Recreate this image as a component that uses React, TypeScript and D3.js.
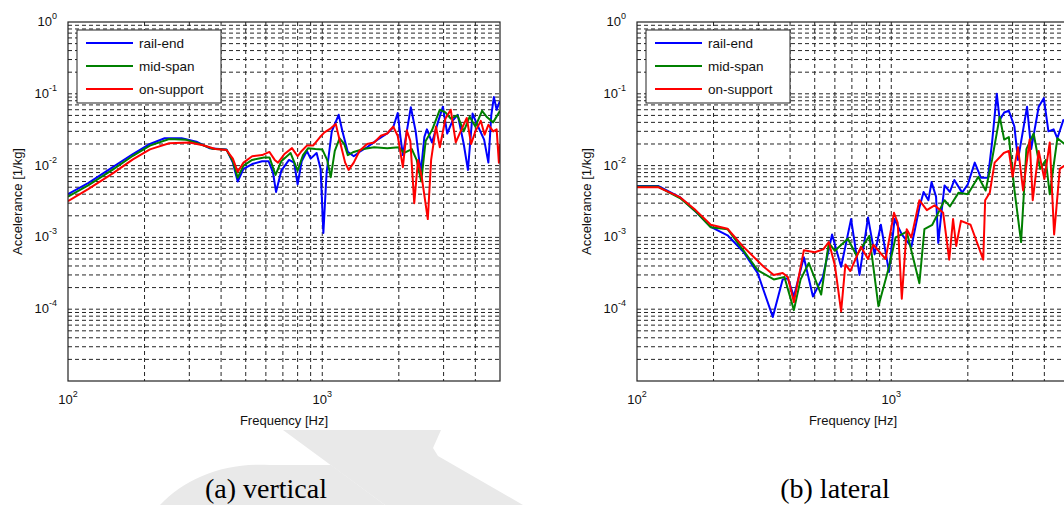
import React from 'react';
import * as d3 from 'd3';

// frequency [Hz], accelerance [1/kg]
const vertRailEnd = [
  [100, 0.004], [120, 0.0057], [150, 0.0095], [180, 0.0145], [210, 0.02], [240, 0.024], [280, 0.024],
  [320, 0.0215], [360, 0.0175], [420, 0.0168], [445, 0.011], [465, 0.006], [490, 0.009], [530, 0.0105],
  [580, 0.0115], [615, 0.0115], [640, 0.008], [658, 0.0043], [690, 0.0085], [740, 0.012], [775, 0.011],
  [800, 0.0055], [830, 0.0115], [870, 0.016], [900, 0.0125], [950, 0.015], [985, 0.009], [1010, 0.00115],
  [1040, 0.008], [1090, 0.03], [1160, 0.051], [1200, 0.03], [1260, 0.0155], [1330, 0.0135], [1400, 0.0155],
  [1500, 0.018], [1650, 0.023], [1800, 0.028], [1900, 0.034], [1980, 0.054], [2030, 0.025], [2075, 0.014],
  [2150, 0.03], [2230, 0.065], [2330, 0.03], [2440, 0.0079], [2520, 0.025], [2580, 0.032], [2700, 0.021],
  [2850, 0.04], [2980, 0.066], [3100, 0.028], [3250, 0.042], [3410, 0.051], [3600, 0.02], [3740, 0.0087],
  [3900, 0.053], [4100, 0.035], [4330, 0.023], [4500, 0.011], [4620, 0.05], [4730, 0.09], [4850, 0.06],
  [5000, 0.08],
];
const vertMidSpan = [
  [100, 0.0037], [120, 0.0053], [150, 0.0088], [180, 0.0137], [210, 0.019], [250, 0.0235], [290, 0.023],
  [330, 0.02], [370, 0.0172], [420, 0.0166], [445, 0.0115], [465, 0.0068], [490, 0.01], [530, 0.012],
  [590, 0.013], [620, 0.013], [655, 0.0074], [690, 0.0115], [750, 0.015], [800, 0.0085], [840, 0.014],
  [880, 0.0175], [940, 0.017], [1000, 0.0168], [1045, 0.012], [1080, 0.0069], [1120, 0.016], [1170, 0.024],
  [1220, 0.02], [1260, 0.014], [1330, 0.0155], [1450, 0.017], [1600, 0.018], [1800, 0.0175], [2000, 0.018],
  [2100, 0.015], [2250, 0.017], [2350, 0.012], [2450, 0.006], [2550, 0.022], [2700, 0.031], [2900, 0.06],
  [3050, 0.055], [3200, 0.045], [3400, 0.05], [3600, 0.03], [3800, 0.048], [4000, 0.035], [4250, 0.058],
  [4450, 0.047], [4700, 0.04], [5000, 0.058],
];
const vertOnSupport = [
  [100, 0.0032], [120, 0.0047], [150, 0.0078], [180, 0.0122], [210, 0.0168], [250, 0.0205], [300, 0.021],
  [340, 0.0192], [380, 0.017], [420, 0.0165], [445, 0.0125], [465, 0.0082], [490, 0.011], [530, 0.0135],
  [580, 0.014], [620, 0.0155], [650, 0.012], [670, 0.011], [710, 0.0145], [760, 0.0175], [800, 0.0135],
  [830, 0.016], [870, 0.019], [920, 0.019], [980, 0.025], [1020, 0.029], [1080, 0.033], [1130, 0.038],
  [1180, 0.02], [1230, 0.011], [1270, 0.0087], [1330, 0.011], [1400, 0.016], [1500, 0.02], [1600, 0.021],
  [1700, 0.026], [1800, 0.028], [1900, 0.035], [1980, 0.026], [2075, 0.0095], [2150, 0.031], [2220, 0.022],
  [2300, 0.003], [2380, 0.012], [2460, 0.007], [2600, 0.0018], [2680, 0.012], [2800, 0.035], [2900, 0.018],
  [3050, 0.045], [3200, 0.06], [3350, 0.021], [3500, 0.03], [3700, 0.046], [3850, 0.02], [4000, 0.03],
  [4200, 0.042], [4350, 0.027], [4500, 0.037], [4700, 0.03], [4850, 0.032], [4950, 0.011], [5000, 0.02],
];

const latRailEnd = [
  [100, 0.0052], [121, 0.0052], [148, 0.0036], [170, 0.0023], [195, 0.0014], [227, 0.00107], [262, 0.00063],
  [298, 0.00032], [342, 0.000078], [374, 0.00026], [392, 0.00027], [414, 0.00015], [453, 0.00053],
  [492, 0.00015], [538, 0.00028], [585, 0.0011], [635, 0.00039], [695, 0.0018], [750, 0.0003], [810, 0.0019],
  [860, 0.00058], [910, 0.0015], [980, 0.00033], [1030, 0.0018], [1100, 0.0011], [1200, 0.00074],
  [1290, 0.0026], [1340, 0.0043], [1400, 0.0033], [1440, 0.0059], [1500, 0.0037], [1530, 0.00084],
  [1570, 0.002], [1620, 0.0053], [1700, 0.0043], [1770, 0.0063], [1900, 0.0042], [2000, 0.0055],
  [2130, 0.011], [2250, 0.0068], [2400, 0.0068], [2490, 0.0207], [2600, 0.1], [2670, 0.043], [2780, 0.055],
  [2900, 0.058], [3050, 0.035], [3150, 0.012], [3420, 0.066], [3550, 0.017], [3800, 0.066], [3980, 0.087],
  [4150, 0.03], [4350, 0.032], [4500, 0.024], [4750, 0.043], [5000, 0.04],
];
const latMidSpan = [
  [100, 0.0051], [121, 0.0051], [148, 0.0035], [170, 0.0023], [195, 0.00138], [227, 0.0013], [262, 0.00066],
  [298, 0.00035], [345, 0.00026], [380, 0.00028], [414, 0.000097], [440, 0.00026], [474, 0.00044],
  [530, 0.00016], [568, 0.00084], [600, 0.00065], [675, 0.00096], [730, 0.00056], [820, 0.00105],
  [890, 0.00011], [980, 0.00039], [1040, 0.001], [1100, 0.0011], [1150, 0.0012], [1290, 0.00023],
  [1350, 0.0013], [1450, 0.0015], [1620, 0.0033], [1700, 0.0027], [1840, 0.0042], [2000, 0.004],
  [2200, 0.007], [2350, 0.0045], [2490, 0.012], [2670, 0.048], [2780, 0.023], [2900, 0.025], [3050, 0.0046],
  [3240, 0.00086], [3400, 0.017], [3630, 0.028], [3850, 0.009], [4050, 0.012], [4200, 0.004], [4500, 0.024],
  [4800, 0.02], [5000, 0.025],
];
const latOnSupport = [
  [100, 0.005], [121, 0.005], [148, 0.0036], [170, 0.0024], [195, 0.0015], [227, 0.00132], [262, 0.00074],
  [315, 0.00039], [345, 0.0003], [374, 0.00032], [392, 0.00028], [414, 0.000125], [453, 0.00066],
  [500, 0.00062], [540, 0.00068], [568, 0.00086], [600, 0.00041], [635, 0.000093], [660, 0.00042],
  [690, 0.00034], [760, 0.00074], [810, 0.0005], [850, 0.00079], [950, 0.0005], [1025, 0.0022],
  [1060, 0.0016], [1100, 0.00014], [1150, 0.0013], [1200, 0.001], [1290, 0.0033], [1380, 0.0024],
  [1480, 0.0028], [1600, 0.0022], [1690, 0.00049], [1750, 0.0018], [1800, 0.00076], [1880, 0.0017],
  [2050, 0.0015], [2300, 0.00049], [2340, 0.0033], [2440, 0.0042], [2550, 0.011], [2770, 0.015],
  [2900, 0.016], [3000, 0.007], [3150, 0.018], [3300, 0.0045], [3500, 0.023], [3600, 0.0033], [3800, 0.016],
  [4000, 0.0065], [4200, 0.021], [4370, 0.0011], [4600, 0.009], [5000, 0.011],
];

const seriesNames = ['rail-end', 'mid-span', 'on-support'];
const seriesColors = ['#0000ff', '#008000', '#ff0000'];
const xTicks = [100, 1000];
const yTicks = [1e-4, 1e-3, 1e-2, 1e-1, 1];
const captions = ['(a) vertical', '(b) lateral'];

const W = 1064;
const H = 505;
const plotW = 432;
const top = 22;
const bottom = 381;
const sans = 'Arial, "Liberation Sans", sans-serif';

function Panel({ left, series, caption, id }) {
  const x = d3.scaleLog().domain([100, 5000]).range([left, left + plotW]);
  const y = d3.scaleLog().domain([1e-5, 1]).range([bottom, top]);
  const line = d3.line().x(d => x(d[0])).y(d => y(d[1]));

  const xGrid = [];
  for (let f = 200; f < 5000; f += f < 1000 ? 100 : 1000) xGrid.push(f);
  const yGrid = [];
  for (let e = -5; e < 0; e++) {
    for (let k = 1; k <= 9; k++) {
      const v = k * Math.pow(10, e);
      if (v > 1e-5) yGrid.push(v);
    }
  }

  const lx = left + 9;
  const cx = left + plotW / 2;

  return (
    <g>
      <defs>
        <clipPath id={id}>
          <rect x={left} y={top} width={plotW} height={bottom - top} />
        </clipPath>
      </defs>
      <rect x={left} y={top} width={plotW} height={bottom - top} fill="#fff" />
      <g stroke="#000" strokeWidth={1} strokeDasharray="4,3" opacity={0.85}>
        {xGrid.map(f => (
          <line key={'x' + f} x1={x(f)} x2={x(f)} y1={top} y2={bottom} />
        ))}
        {yGrid.map(v => (
          <line key={'y' + v} x1={left} x2={left + plotW} y1={y(v)} y2={y(v)} />
        ))}
      </g>
      <g clipPath={`url(#${id})`} fill="none" strokeWidth={2} strokeLinejoin="round">
        {series.map((s, i) => (
          <path key={i} d={line(s)} stroke={seriesColors[i]} />
        ))}
      </g>
      <rect x={left} y={top} width={plotW} height={bottom - top} fill="none" stroke="#222" strokeWidth={1.2} />

      {/* legend */}
      <rect x={lx} y={30} width={144} height={73} fill="#fff" stroke="#222" strokeWidth={1} />
      {seriesNames.map((n, i) => (
        <g key={n}>
          <line x1={lx + 9} x2={lx + 56} y1={43 + i * 23} y2={43 + i * 23} stroke={seriesColors[i]} strokeWidth={2} />
          <text x={lx + 62} y={47.5 + i * 23} fontSize={13.5} fontFamily={sans} fill="#111">{n}</text>
        </g>
      ))}

      {/* tick labels */}
      {yTicks.map(v => (
        <text key={v} x={left - 11} y={y(v) + 4} fontSize={13} fontFamily={sans} textAnchor="end" fill="#111">
          10<tspan fontSize={9} dy={-7}>{Math.round(Math.log10(v))}</tspan>
        </text>
      ))}
      {xTicks.map(f => (
        <text key={f} x={x(f)} y={404} fontSize={13} fontFamily={sans} textAnchor="middle" fill="#111">
          10<tspan fontSize={9} dy={-7}>{Math.round(Math.log10(f))}</tspan>
        </text>
      ))}
      <text x={cx} y={425} fontSize={13} fontFamily={sans} textAnchor="middle" fill="#111">Frequency [Hz]</text>
      <text transform={`translate(${left - 46},${(top + bottom) / 2}) rotate(-90)`} fontSize={13}
        fontFamily={sans} textAnchor="middle" fill="#111">Accelerance [1/kg]</text>

      <text x={left + 198} y={498} fontSize={28} fontFamily='"Times New Roman", "Liberation Serif", serif'
        textAnchor="middle" fill="#000">{caption}</text>
    </g>
  );
}

export default function App() {
  return (
    <svg width={W} height={H} style={{ position: 'absolute', left: 0, top: 0, background: '#fff' }}>
      {/* faint watermark behind the figure */}
      <g fill="#e9e9e9">
        <polygon points="283,430 441,430 433,448 438,456 523,505 385,505" />
        <path d="M160,505 C185,478 225,462 270,465 L331,465 L385,505 Z" />
      </g>
      <Panel left={68} series={[vertRailEnd, vertMidSpan, vertOnSupport]} caption={captions[0]} id="clipA" />
      <Panel left={637} series={[latRailEnd, latMidSpan, latOnSupport]} caption={captions[1]} id="clipB" />
    </svg>
  );
}
